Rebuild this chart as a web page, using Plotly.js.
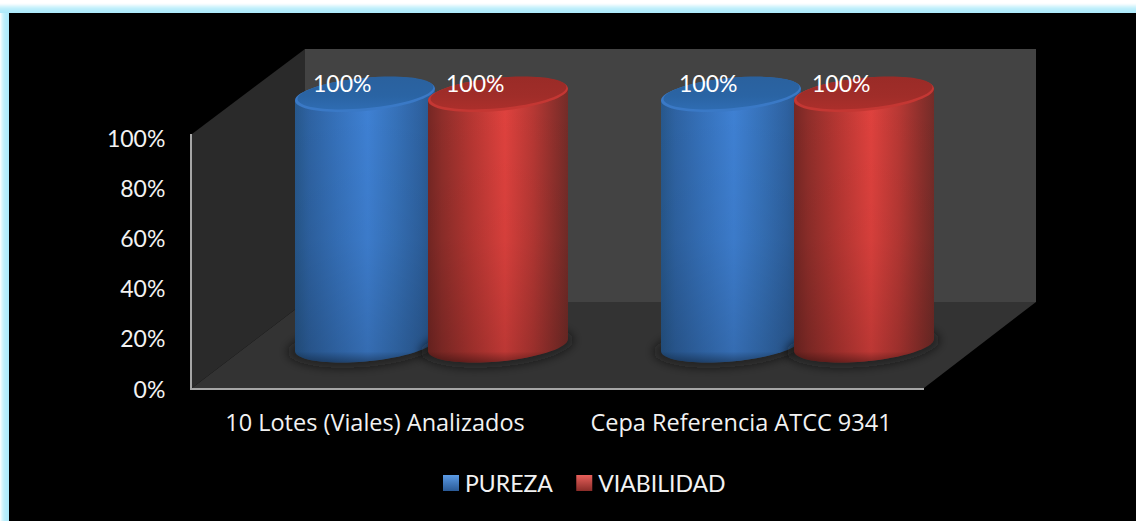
<!DOCTYPE html>
<html><head><meta charset="utf-8">
<script src="https://cdn.plot.ly/plotly-3.0.1.min.js"></script>
<style>html,body{margin:0;padding:0;background:#000}#chart{width:1136px;height:521px}</style>
</head><body><div id="chart"></div>
<script>
const categories = ['10 Lotes (Viales) Analizados', 'Cepa Referencia ATCC 9341'];
const seriesNames = ['PUREZA', 'VIABILIDAD'];
const pureza = [100, 100];
const viabilidad = [100, 100];
const yTicks = [0, 20, 40, 60, 80, 100];

const W = 1136, H = 521;
const FONT = 'Lato, "Open Sans", sans-serif';
const XFONT = '"Open Sans", Lato, sans-serif';
const TXT = '#f2f2f2';
// chart frame, px
const front = {l: 192, r: 924, t: 134, b: 388};
const back = {l: 305, r: 1036, t: 49, b: 302};
const bars = {l: 248.5, r: 980.5, zero: 345, full: 94.5};
const catPx = front.r - front.l;
const barWidth = 140 / (catPx / 2);
const offsets = [-136.5 / (catPx / 2), -3.5 / (catPx / 2)];
const labelShift = -23;

const px = (x) => x / W, py = (y) => 1 - y / H;
function poly(pts, fill) {
  return {type: 'path', xref: 'paper', yref: 'paper', layer: 'below', line: {width: 0}, fillcolor: fill,
    path: 'M' + pts.map(p => px(p[0]) + ',' + py(p[1])).join('L') + 'Z'};
}
function rect(x0, y0, x1, y1, fill) { return poly([[x0, y0], [x1, y0], [x1, y1], [x0, y1]], fill); }

const shapes = [];
// frame glow along the top and left
const topGlow = ['#ffffff', '#ffffff', '#ffffff', '#fbfeff', '#f2fbfe', '#e4f8fd', '#d6f5fc', '#caf2fc', '#c0effb', '#b9edfb', '#b4ecfb', '#b1ebfb', '#aeeafb'];
const sideGlow = ['#f4fcfe', '#e2f8fd', '#d2f4fc', '#c6f1fc', '#bdeefb', '#b7edfb', '#b3ecfb', '#b0ebfb', '#aeeafb'];
topGlow.forEach((c, i) => shapes.push(rect(0, i, W, i + 1, c)));
sideGlow.forEach((c, i) => shapes.push(rect(i, 13, i + 1, H, c)));
shapes.push(poly([[back.l, back.t], [back.r, back.t], [back.r, back.b], [back.l, back.b]], '#434343'));
shapes.push(poly([[front.l, front.t], [back.l, back.t], [back.l, back.b], [front.l, front.b]], '#2a2a2a'));
shapes.push(poly([[front.l, front.b], [back.l, back.b], [back.r, back.b], [front.r, front.b]], '#333333'));

const annotations = [];
[pureza, viabilidad].forEach((vals, s) => vals.forEach((v, i) => annotations.push({
  xref: 'x2', yref: 'y2', x: i + offsets[s] + barWidth / 2, y: v, xshift: labelShift, yshift: 11.5,
  text: v + '%', showarrow: false, font: {family: FONT, size: 23, color: '#ffffff'}
})));

const data = [
  {type: 'scatter', mode: 'lines', x: categories, y: pureza, line: {width: 0}, opacity: 0, showlegend: false, hoverinfo: 'skip', xaxis: 'x', yaxis: 'y'},
  {type: 'bar', name: seriesNames[0], x: categories, y: pureza, width: barWidth, offset: offsets[0], cliponaxis: false, marker: {color: '#3e80d2', line: {width: 0}}, xaxis: 'x2', yaxis: 'y2'},
  {type: 'bar', name: seriesNames[1], x: categories, y: viabilidad, width: barWidth, offset: offsets[1], cliponaxis: false, marker: {color: '#d8403c', line: {width: 0}}, xaxis: 'x2', yaxis: 'y2'}
];

const layout = {
  width: W, height: H, paper_bgcolor: '#000', plot_bgcolor: 'rgba(0,0,0,0)',
  margin: {l: 0, r: 0, t: 0, b: 0}, barmode: 'overlay', hovermode: false,
  font: {family: FONT, size: 23, color: TXT},
  showlegend: true,
  legend: {orientation: 'h', x: 578 / W, xanchor: 'center', y: py(483), yanchor: 'middle', font: {family: FONT, size: 23, color: TXT}, itemwidth: 30, bgcolor: 'rgba(0,0,0,0)', traceorder: 'normal'},
  xaxis: {domain: [px(front.l), px(front.r)], type: 'category', categoryarray: categories, range: [-0.5, 1.5], anchor: 'y', showgrid: false, zeroline: false,
    showline: true, linecolor: '#a6a6a6', linewidth: 2, ticks: '', ticklabelstandoff: 13, tickfont: {family: XFONT, size: 23.5, color: TXT}},
  yaxis: {domain: [py(front.b), py(front.t)], range: [0, 254 / 251 * 100], anchor: 'x', tickvals: yTicks, ticktext: yTicks.map(t => t + '%'), showgrid: false, zeroline: false,
    showline: true, linecolor: '#a6a6a6', linewidth: 2, ticks: '', ticklabelstandoff: 20, tickfont: {family: FONT, size: 23, color: TXT}},
  xaxis2: {domain: [px(bars.l), px(bars.r)], type: 'category', categoryarray: categories, range: [-0.5, 1.5], anchor: 'y2', visible: false},
  yaxis2: {domain: [py(bars.zero), py(bars.full)], range: [0, 100], anchor: 'x2', visible: false},
  shapes, annotations
};

const NS = 'http://www.w3.org/2000/svg';
function el(tag, attrs, parent) {
  const e = document.createElementNS(NS, tag);
  for (const k in attrs) e.setAttribute(k, attrs[k]);
  if (parent) parent.appendChild(e);
  return e;
}
function grad(defs, id, stops, vertical) {
  const g = el('linearGradient', {id, x1: 0, y1: 0, x2: vertical ? 0 : 1, y2: vertical ? 1 : 0}, defs);
  stops.forEach(s => el('stop', {offset: s[0], 'stop-color': s[1], 'stop-opacity': s[2] === undefined ? 1 : s[2]}, g));
}
// tilted ellipse helpers
const TILT = 6, K = 0.5523;
function ellipsePath(cx, cy, a, b, tilt) {
  const P = (u, v) => (cx + a * u) + ',' + (cy - tilt * u + b * v);
  return 'M' + P(-1, 0) + 'C' + P(-1, -K) + ' ' + P(-K, -1) + ' ' + P(0, -1) +
    'C' + P(K, -1) + ' ' + P(1, -K) + ' ' + P(1, 0) +
    'C' + P(1, K) + ' ' + P(K, 1) + ' ' + P(0, 1) +
    'C' + P(-K, 1) + ' ' + P(-1, K) + ' ' + P(-1, 0) + 'Z';
}
function cylinderBody(x0, x1, yTop, yBot, b) {
  const a = (x1 - x0) / 2, cx = (x0 + x1) / 2;
  const P = (u, v, cy) => (cx + a * u) + ',' + (cy - TILT * u + b * v);
  return 'M' + P(-1, 0, yTop) + 'L' + P(1, 0, yTop) + 'L' + P(1, 0, yBot) +
    'C' + P(1, K, yBot) + ' ' + P(K, 1, yBot) + ' ' + P(0, 1, yBot) +
    'C' + P(-K, 1, yBot) + ' ' + P(-1, K, yBot) + ' ' + P(-1, 0, yBot) + 'Z';
}

const palette = [
  {body: [[0, '#27588c'], [0.1, '#2e63a3'], [0.3, '#3672bc'], [0.52, '#3f81d4'], [0.72, '#3672ba'], [0.9, '#2e62a1'], [1, '#28568a']],
   cap: [[0, '#2a619e'], [0.6, '#2a64a4'], [1, '#2f6cb2']], rim: '#3a79c6', legend: ['#5b9be6', '#2a5a96']},
  {body: [[0, '#762724'], [0.1, '#8f2e2a'], [0.3, '#b53632'], [0.55, '#e0423e'], [0.75, '#b83834'], [0.9, '#8f302c'], [1, '#742c28']],
   cap: [[0, '#9a2b27'], [0.6, '#a02d29'], [1, '#ac2f2b']], rim: '#c43733', legend: ['#e8605b', '#8a2c28']}
];

Plotly.newPlot('chart', data, layout, {displayModeBar: false, staticPlot: true}).then(gd => {
  const svg = gd.querySelector('svg.main-svg');
  const defs = svg.querySelector('defs') || el('defs', {}, svg);
  el('filter', {id: 'shadowBlur', x: '-20%', y: '-50%', width: '140%', height: '200%'}, defs).appendChild(
    el('feGaussianBlur', {stdDeviation: 5}));
  grad(defs, 'shade', [[0, '#000', 0], [0.55, '#000', 0.05], [0.96, '#000', 0.16], [1, '#000', 0.45]], true);
  palette.forEach((p, s) => {
    grad(defs, 'body' + s, p.body, false);
    grad(defs, 'cap' + s, p.cap, true);
    grad(defs, 'leg' + s, [[0, p.legend[0]], [1, p.legend[1]]], true);
  });
  const traces = [...gd.querySelectorAll('.barlayer .trace.bars')];
  traces.forEach((tr, s) => {
    tr.querySelectorAll('.point path').forEach(path => {
      const nums = path.getAttribute('d').match(/-?[\d.]+/g).map(Number);
      const x0 = nums[0], yB = nums[1], yT = nums[2], x1 = nums[3];
      const a = (x1 - x0) / 2, cx = (x0 + x1) / 2, b = 16.5;
      const d = cylinderBody(x0, x1, yT, yB, b);
      path.removeAttribute('clip-path');
      path.setAttribute('d', d);
      path.style.fill = 'url(#body' + s + ')';
      const parent = path.parentNode;
      const shadow = el('path', {d: ellipsePath(cx - 1, yB + 1, a + 7, b + 5, TILT), fill: '#0c0c0c', 'fill-opacity': 0.55, filter: 'url(#shadowBlur)'});
      parent.insertBefore(shadow, path);
      el('path', {d, fill: 'url(#shade)'}, parent);
      el('path', {d: ellipsePath(cx, yT, a, b, TILT), fill: palette[s].rim}, parent);
      el('path', {d: ellipsePath(cx + 0.5, yT - 1.5, a - 2, b - 1.2, TILT), fill: 'url(#cap' + s + ')'}, parent);
    });
  });
  gd.querySelectorAll('.legend .traces').forEach((t, s) => {
    const sw = t.querySelector('.legendbar path, .legendpoints path');
    if (sw) {
      sw.setAttribute('d', 'M14,8H-2V-8H14Z');
      sw.style.fill = 'url(#leg' + s + ')';
      sw.style.stroke = 'none';
    }
  });
  const yl = gd.querySelector('.yaxislayer-above');
  if (yl) yl.setAttribute('transform', 'translate(0,1.5)');
});
</script></body></html>
